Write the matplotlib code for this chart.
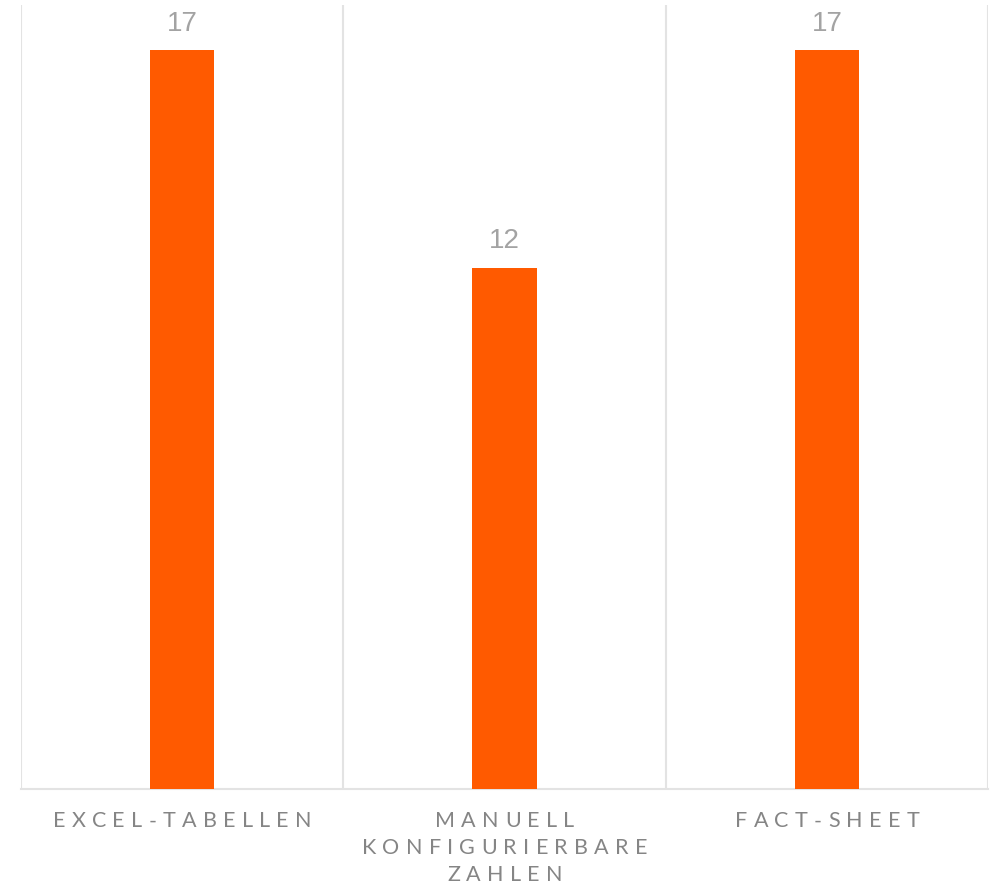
import matplotlib.pyplot as plt
from matplotlib.font_manager import FontProperties
from matplotlib.transforms import blended_transform_factory, offset_copy

categories = ["EXCEL-TABELLEN", "MANUELL\nKONFIGURIERBARE\nZAHLEN", "FACT-SHEET"]
values = [17, 12, 17]

bar_color = "#ff5a00"
grid_color = "#e3e3e3"
label_color = "#858585"
value_color = "#a3a3a3"

fig = plt.figure(figsize=(9.9, 8.88), dpi=100)
ax = fig.add_axes([0.0212, 0.1115, 0.977, 0.883])

x = list(range(len(categories)))
bars = ax.bar(x, values, width=0.2, color=bar_color, zorder=3)

ax.set_xlim(-0.5, len(categories) - 0.5)
ax.set_ylim(0, 18.05)

# vertical separators between categories
for b in range(len(categories) + 1):
    ax.axvline(b - 0.5, color=grid_color, lw=1.5, zorder=1)

for s in ["top", "right", "left"]:
    ax.spines[s].set_visible(False)
ax.spines["bottom"].set_color(grid_color)
ax.spines["bottom"].set_linewidth(1.5)
ax.set_xticks([])
ax.set_yticks([])

for rect, v in zip(bars, values):
    ax.annotate(str(v), (rect.get_x() + rect.get_width() / 2, v),
                xytext=(0, 10), textcoords="offset points",
                ha="center", va="bottom", fontsize=20, color=value_color,
                family="Liberation Sans")

# category labels with wide letter spacing, drawn glyph by glyph
renderer = fig.canvas.get_renderer()
fp = FontProperties(family="Lato", size=15.5)
track = 4.5  # points between letters
first_baseline = -27.5  # points below the axis
line_pitch = 19.4
base = blended_transform_factory(ax.transData, ax.transAxes)


def spaced_line(xc, line, y_pts):
    widths = [renderer.get_text_width_height_descent(c, fp, ismath=False)[0] * 72 / fig.dpi
              for c in line]
    total = sum(widths) + track * (len(line) - 1)
    pos = -total / 2
    for c, w in zip(line, widths):
        tr = offset_copy(base, fig=fig, x=pos, y=y_pts, units="points")
        ax.text(xc, 0, c, transform=tr, fontproperties=fp, color=label_color,
                ha="left", va="baseline", clip_on=False)
        pos += w + track


for xc, label in zip(x, categories):
    for i, line in enumerate(label.split("\n")):
        spaced_line(xc, line, first_baseline - i * line_pitch)

fig.savefig("out.png", dpi=100)
